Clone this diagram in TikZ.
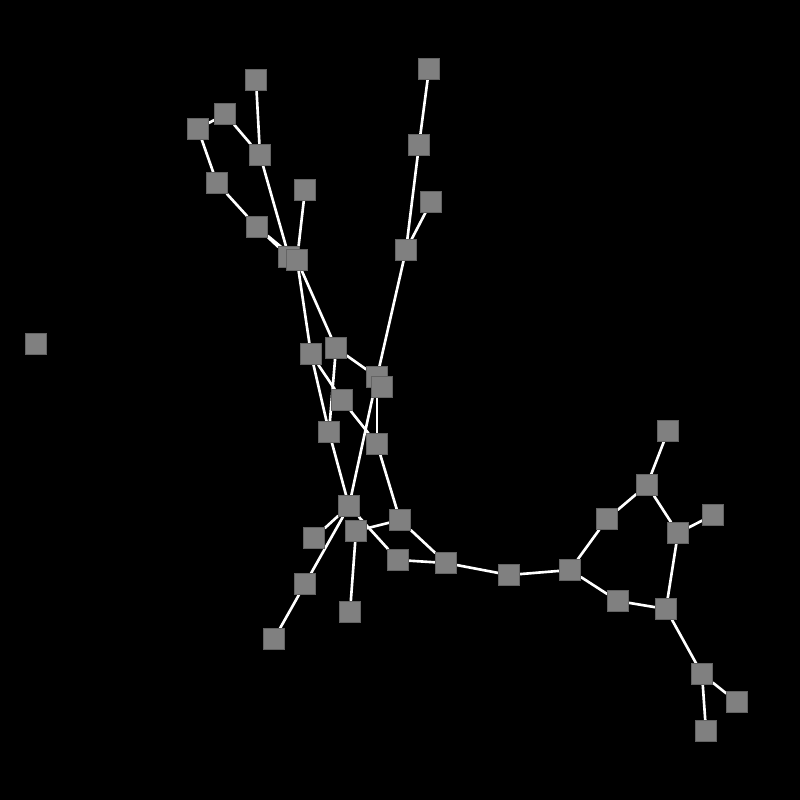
\documentclass[tikz,border=0pt]{standalone}
\pgfdeclarelayer{bg}
\pgfdeclarelayer{edges}
\pgfsetlayers{bg,edges,main}
\definecolor{boxgray}{RGB}{128,128,128}
\definecolor{boxline}{RGB}{100,100,100}
\tikzset{
  vtx/.style={draw=boxline, line width=0.2pt, fill=boxgray, minimum size=0.42cm, inner sep=0pt},
  link/.style={white, line width=1.5pt}
}
\begin{document}
\begin{tikzpicture}[x=0.02cm,y=-0.02cm]
\begin{pgfonlayer}{bg}
\fill[black] (0,0) rectangle (800,800);
\end{pgfonlayer}
% upper branches
\node[vtx] (n1) at (429,69) {};
\node[vtx] (n2) at (419,145) {};
\node[vtx] (n3) at (431,202) {};
\node[vtx] (n4) at (406,250) {};
\node[vtx] (n5) at (256,80) {};
\node[vtx] (n6) at (225,114) {};
\node[vtx] (n7) at (198,129) {};
\node[vtx] (n8) at (260,155) {};
\node[vtx] (n9) at (217,183) {};
\node[vtx] (n10) at (257,227) {};
\node[vtx] (n11) at (305,190) {};
\node[vtx] (n12) at (289,257) {};
\node[vtx] (n13) at (297,260) {};
\node[vtx] (n14) at (36,344) {};
% middle
\node[vtx] (n15) at (311,354) {};
\node[vtx] (n16) at (336,348) {};
\node[vtx] (n17) at (377,377) {};
\node[vtx] (n18) at (382,387) {};
\node[vtx] (n19) at (342,400) {};
\node[vtx] (n20) at (329,432) {};
\node[vtx] (n21) at (377,444) {};
% lower
\node[vtx] (n22) at (349,506) {};
\node[vtx] (n23) at (314,538) {};
\node[vtx] (n24) at (356,531) {};
\node[vtx] (n25) at (400,520) {};
\node[vtx] (n26) at (398,560) {};
\node[vtx] (n27) at (446,563) {};
\node[vtx] (n28) at (305,584) {};
\node[vtx] (n29) at (350,612) {};
\node[vtx] (n30) at (274,639) {};
\node[vtx] (n31) at (509,575) {};
% right ring
\node[vtx] (n32) at (570,570) {};
\node[vtx] (n33) at (607,519) {};
\node[vtx] (n34) at (647,485) {};
\node[vtx] (n35) at (668,431) {};
\node[vtx] (n36) at (678,533) {};
\node[vtx] (n37) at (713,515) {};
\node[vtx] (n38) at (618,601) {};
\node[vtx] (n39) at (666,609) {};
\node[vtx] (n40) at (702,674) {};
\node[vtx] (n41) at (737,702) {};
\node[vtx] (n42) at (706,731) {};
\begin{pgfonlayer}{edges}
\draw[link] (n1) -- (n2);
\draw[link] (n2) -- (n4);
\draw[link] (n3) -- (n4);
\draw[link] (n4) -- (n17);
\draw[link] (n17) -- (n22);
\draw[link] (n5) -- (n8);
\draw[link] (n6) -- (n7);
\draw[link] (n6) -- (n8);
\draw[link] (n7) -- (n9);
\draw[link] (n9) -- (n10);
\draw[link] (n10) -- (n12);
\draw[link] (n10) -- (n13);
\draw[link] (n8) -- (n12);
\draw[link] (n11) -- (n13);
\draw[link] (n13) -- (n15);
\draw[link] (n13) -- (n16);
\draw[link] (n15) -- (n19);
\draw[link] (n15) -- (n20);
\draw[link] (n16) -- (n20);
\draw[link] (n16) -- (n17);
\draw[link] (n19) -- (n21);
\draw[link] (n17) -- (n21);
\draw[link] (n20) -- (n22);
\draw[link] (n21) -- (n25);
\draw[link] (n22) -- (n23);
\draw[link] (n22) -- (n28);
\draw[link] (n28) -- (n30);
\draw[link] (n22) -- (n26);
\draw[link] (n24) -- (n29);
\draw[link] (n24) -- (n25);
\draw[link] (n25) -- (n27);
\draw[link] (n26) -- (n27);
\draw[link] (n27) -- (n31);
\draw[link] (n31) -- (n32);
\draw[link] (n32) -- (n33);
\draw[link] (n33) -- (n34);
\draw[link] (n34) -- (n35);
\draw[link] (n34) -- (n36);
\draw[link] (n36) -- (n37);
\draw[link] (n36) -- (n39);
\draw[link] (n32) -- (n38);
\draw[link] (n38) -- (n39);
\draw[link] (n39) -- (n40);
\draw[link] (n40) -- (n41);
\draw[link] (n40) -- (n42);
\end{pgfonlayer}
\end{tikzpicture}
\end{document}
